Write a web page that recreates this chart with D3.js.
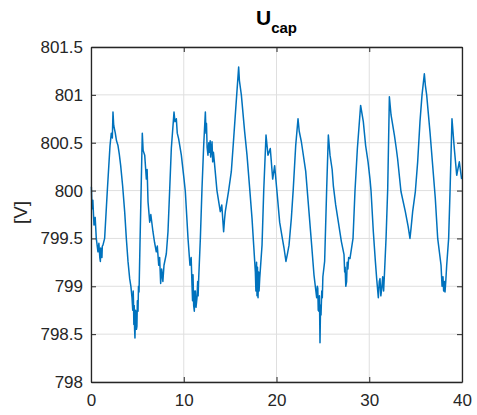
<!DOCTYPE html>
<html>
<head>
<meta charset="utf-8">
<script src="https://cdn.jsdelivr.net/npm/d3@7"></script>
<style>
  body { margin: 0; background: #fff; }
  text { font-family: "Liberation Sans", Arial, sans-serif; }
</style>
</head>
<body>
<div id="chart"></div>
<script>
// time [s] and capacitor voltage [V]
var timeValues = [
  0.04,0.11,0.2,0.32,0.45,0.57,0.75,0.85,0.95,1.01,1.05,1.1,1.18,1.22,1.29,1.47,1.76,2.05,2.19,2.3,
  2.37,2.45,2.62,2.75,2.91,3.05,3.2,3.41,3.63,3.81,3.99,4.17,4.3,4.42,4.5,4.55,4.58,4.62,4.66,4.7,
  4.74,4.8,4.85,4.9,4.95,5.0,5.07,5.12,5.18,5.28,5.53,5.62,5.79,5.97,6.05,6.15,6.33,6.45,6.68,6.85,
  7.04,7.15,7.3,7.4,7.51,7.62,7.75,7.87,8.12,8.3,8.48,8.66,8.95,9.05,9.2,9.3,9.45,9.74,10.03,10.17,
  10.46,10.67,10.8,10.89,10.95,11.0,11.07,11.14,11.2,11.25,11.32,11.43,11.5,11.55,11.61,11.79,11.97,12.15,12.33,12.4,
  12.45,12.52,12.61,12.7,12.75,12.85,12.9,13.05,13.12,13.2,13.3,13.58,13.94,14.1,14.3,14.4,14.48,14.84,15.13,15.38,
  15.63,15.92,16.0,16.21,16.57,16.82,17.11,17.36,17.54,17.72,17.78,17.85,17.9,17.95,18.01,18.07,18.12,18.19,18.44,18.62,
  18.87,19.08,19.33,19.59,19.8,20.05,20.34,20.63,20.81,21.02,21.2,21.35,21.6,21.81,22.07,22.32,22.45,22.68,23.15,23.5,
  23.79,24.04,24.33,24.4,24.45,24.5,24.58,24.63,24.69,24.75,24.8,24.88,24.94,25.0,25.19,25.41,25.59,25.77,26.0,26.13,
  26.38,26.67,26.99,27.28,27.35,27.4,27.47,27.56,27.62,27.7,27.78,27.92,28.25,28.46,28.72,29.07,29.36,29.61,29.87,30.08,
  30.19,30.44,30.66,30.8,30.98,31.08,31.16,31.25,31.34,31.45,31.55,31.63,31.81,31.99,32.17,32.35,32.71,32.9,33.06,33.42,
  33.89,34.2,34.39,34.5,34.68,34.97,35.22,35.47,35.69,35.94,36.05,36.19,36.55,36.84,37.12,37.38,37.74,37.85,37.95,38.02,
  38.1,38.17,38.25,38.35,38.56,38.71,38.92,39.17,39.43,39.71,39.96
];
var voltageValues = [
  800.04,799.81,799.9,799.64,799.72,799.5,799.36,799.45,799.3,799.26,799.4,799.38,799.3,799.42,799.43,799.5,800.0,800.47,800.6,800.55,
  800.82,800.68,800.6,800.52,800.47,800.38,800.26,800.05,799.78,799.5,799.26,799.08,799.0,798.88,798.75,798.95,798.85,798.6,798.8,798.55,
  798.46,798.75,798.72,798.55,798.58,798.85,798.74,799.0,798.94,799.43,800.6,800.42,800.37,800.12,800.22,799.88,799.67,799.75,799.57,799.46,
  799.36,799.42,799.22,799.3,799.03,799.18,799.05,799.22,799.34,799.57,800.0,800.44,800.82,800.72,800.75,800.6,800.54,800.37,800.12,799.99,
  799.5,799.22,799.3,799.01,798.85,799.12,798.8,798.74,798.95,798.95,798.78,798.88,799.05,798.9,799.08,799.5,800.03,800.47,800.82,800.6,
  800.7,800.45,800.37,800.5,800.4,800.52,800.35,800.51,800.3,800.4,800.3,800.0,799.78,799.85,799.57,799.7,799.78,800.0,800.2,800.54,
  800.89,801.29,801.15,801.0,800.61,800.37,800.02,799.71,799.43,799.15,798.95,799.25,798.9,799.2,798.88,799.15,798.95,799.08,799.43,799.99,
  800.58,800.37,800.44,800.12,800.26,799.99,799.67,799.5,799.4,799.26,799.35,799.43,799.71,800.02,800.47,800.75,800.62,800.51,800.2,799.78,
  799.43,799.12,798.88,799.0,798.98,798.75,798.74,798.9,798.41,798.8,798.7,798.95,798.88,799.1,799.26,800.02,800.58,800.37,800.22,800.05,
  799.85,799.67,799.47,799.33,799.15,799.2,799.0,799.05,799.25,799.18,799.3,799.29,799.5,799.99,800.44,800.89,800.72,800.47,800.3,800.12,
  800.0,799.57,799.26,799.08,798.88,799.05,799.08,798.9,798.97,799.1,798.95,799.11,799.5,800.02,800.98,800.79,800.58,800.45,800.33,799.99,
  799.78,799.62,799.5,799.6,799.78,799.99,800.3,800.72,801.0,801.22,801.1,801.0,800.61,800.26,799.92,799.5,799.22,799.0,799.1,798.95,
  799.05,798.94,799.05,799.22,799.5,799.99,800.75,800.44,800.16,800.3,800.12
];

var xTicks = [0, 10, 20, 30, 40];
var yTicks = [798, 798.5, 799, 799.5, 800, 800.5, 801, 801.5];

var fullWidth = 477;
var fullHeight = 415;
var margin = {top: 47, right: 15, bottom: 33, left: 91};
var width = fullWidth - margin.left - margin.right;
var height = fullHeight - margin.top - margin.bottom;

var x = d3.scaleLinear().domain([0, 40]).range([0, width]);
var y = d3.scaleLinear().domain([798, 801.5]).range([height, 0]);

var svg = d3.select("#chart")
  .append("svg")
    .attr("width", fullWidth)
    .attr("height", fullHeight)
  .append("g")
    .attr("transform", "translate(" + margin.left + "," + margin.top + ")");

// grid
svg.append("g")
  .selectAll("line")
  .data(xTicks)
  .enter().append("line")
    .attr("x1", function(d) { return x(d); })
    .attr("x2", function(d) { return x(d); })
    .attr("y1", 0)
    .attr("y2", height)
    .attr("stroke", "#dfdfdf");

svg.append("g")
  .selectAll("line")
  .data(yTicks)
  .enter().append("line")
    .attr("x1", 0)
    .attr("x2", width)
    .attr("y1", function(d) { return y(d); })
    .attr("y2", function(d) { return y(d); })
    .attr("stroke", "#dfdfdf");

// signal
var line = d3.line()
  .x(function(d, i) { return x(timeValues[i]); })
  .y(function(d) { return y(d); });

svg.append("path")
  .datum(voltageValues)
  .attr("fill", "none")
  .attr("stroke", "#0072BD")
  .attr("stroke-width", 1.5)
  .attr("stroke-linejoin", "round")
  .attr("d", line);

// axes, ticks inside like matlab
var axisColor = "#262626";

var xAxis = svg.append("g")
  .attr("transform", "translate(0," + height + ")")
  .call(d3.axisBottom(x).tickValues(xTicks).tickSizeInner(-5).tickSizeOuter(0).tickPadding(12));

var xAxisTop = svg.append("g")
  .call(d3.axisTop(x).tickValues(xTicks).tickSizeInner(-5).tickSizeOuter(0).tickFormat(""));

var yAxis = svg.append("g")
  .call(d3.axisLeft(y).tickValues(yTicks).tickSizeInner(-5).tickSizeOuter(0).tickPadding(8)
    .tickFormat(function(d) { return d3.format("")(d); }));

var yAxisRight = svg.append("g")
  .attr("transform", "translate(" + width + ",0)")
  .call(d3.axisRight(y).tickValues(yTicks).tickSizeInner(-5).tickSizeOuter(0).tickFormat(""));

[xAxis, xAxisTop, yAxis, yAxisRight].forEach(function(a) {
  a.select(".domain").attr("stroke", axisColor).attr("stroke-width", 1.3);
  a.selectAll(".tick line").attr("stroke", axisColor);
  a.selectAll(".tick text")
    .attr("fill", axisColor)
    .style("font-size", "17px")
    .style("font-family", "'Liberation Sans', Arial, sans-serif");
});

// title
var title = svg.append("text")
  .attr("x", width / 2)
  .attr("y", -22)
  .attr("text-anchor", "middle")
  .attr("fill", "#000")
  .style("font-weight", "bold")
  .style("font-size", "21px");
title.append("tspan").text("U");
title.append("tspan")
  .attr("dy", 8)
  .style("font-size", "15px")
  .text("cap");

// y label
svg.append("text")
  .attr("transform", "translate(" + (-64) + "," + (height / 2 - 2) + ") rotate(-90)")
  .attr("text-anchor", "middle")
  .attr("fill", axisColor)
  .style("font-size", "19px")
  .text("[V]");
</script>
</body>
</html>
